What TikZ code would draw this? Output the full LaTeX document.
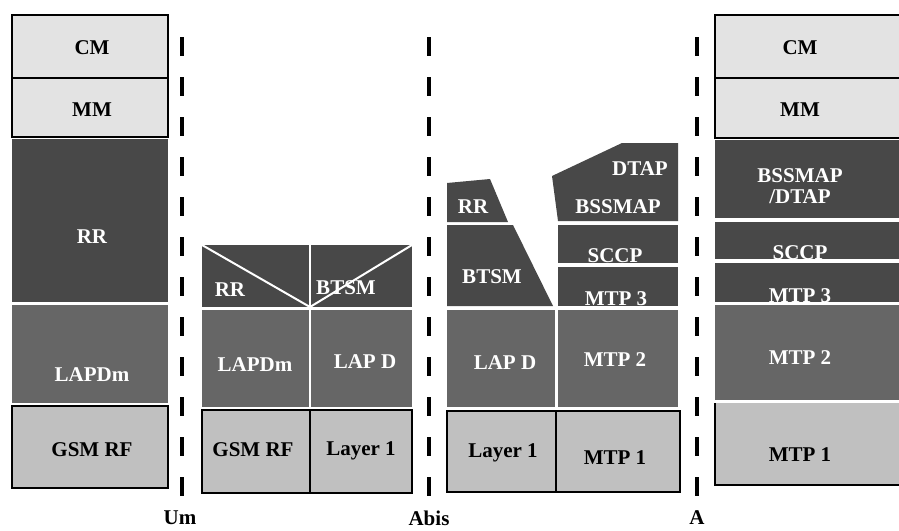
\documentclass[tikz,border=0pt]{standalone}
\usepackage{fontspec}
\setmainfont{Liberation Serif}
\usetikzlibrary{positioning}
\definecolor{layerpale}{HTML}{E3E3E3}
\definecolor{layerlight}{HTML}{C0C0C0}
\definecolor{layermid}{HTML}{666666}
\definecolor{layerdark}{HTML}{484848}

\begin{document}
\begin{tikzpicture}[x=1pt, y=-1pt,
    lbl/.style={font=\bfseries\fontsize{21}{21}\selectfont, inner sep=0pt},
    onlight/.style={lbl, black},
    ondark/.style={lbl, white},
    rim/.style={line width=1.6pt, black},
    cut/.style={line width=2pt, white},
    iface/.style={line width=4.5pt, black, dash pattern=on 19pt off 21pt}]
    \useasboundingbox (0,0) rectangle (899,530);

    % interfaces
    \draw[iface] (182,37) -- (182,497);
    \draw[iface] (429,37) -- (429,497);
    \draw[iface] (697,37) -- (697,497);
    \node[onlight] (um) at (180,518) {Um};
    \node[onlight] (abis) at (429,518) {Abis};
    \node[onlight] (aif) at (697,518) {A};

    % mobile station
    \fill[layerpale] (12,15) rectangle (168,137);
    \draw[rim] (12,15) rectangle (168,78);
    \draw[rim] (12,78) rectangle (168,137);
    \fill[layerdark] (12,139) rectangle (168,302);
    \fill[layermid] (12,305) rectangle (168,403);
    \fill[layerlight] (12,406) rectangle (168,488);
    \draw[rim] (12,406) rectangle (168,488);
    \node[onlight] (mscm) at (92,48) {CM};
    \node[onlight] (msmm) at (92,110) {MM};
    \node[ondark] (msrr) at (92,237) {RR};
    \node[ondark] (mslapdm) at (92,375) {LAPDm};
    \node[onlight] (msrf) at (92,450) {GSM RF};

    % base transceiver station
    \fill[layerdark] (202,245) rectangle (412,307);
    \draw[cut] (202,245) -- (310,307) -- (412,245);
    \draw[cut] (310,245) -- (310,307);
    \fill[layermid] (202,310) rectangle (309,407);
    \fill[layermid] (311,310) rectangle (412,407);
    \fill[layerlight] (202,410) rectangle (412,493);
    \draw[rim] (202,410) rectangle (412,493);
    \draw[rim] (310,410) -- (310,493);
    \node[ondark] (btsrr) at (230,290) {RR};
    \node[ondark] (btsbtsm) at (346,288) {BTSM};
    \node[ondark] (btslapdm) at (255,365) {LAPDm};
    \node[ondark] (btslapd) at (365,362) {LAP D};
    \node[onlight] (btsrf) at (253,450) {GSM RF};
    \node[onlight] (btsl1) at (361,451) {Layer 1};

    % base station controller
    \fill[layerdark] (447,183) -- (490,179) -- (508,222) -- (447,222) -- cycle;
    \fill[layerdark] (447,225) -- (513,225) -- (553,306) -- (447,306) -- cycle;
    \fill[layermid] (447,310) rectangle (555,407);
    \fill[layerdark] (552,176) -- (622,143) -- (678,143) -- (678,221) -- (558,221) -- cycle;
    \fill[layerdark] (558,225) rectangle (678,263);
    \fill[layerdark] (558,267) rectangle (678,306);
    \fill[layermid] (558,310) rectangle (678,407);
    \fill[layerlight] (447,411) rectangle (680,492);
    \draw[rim] (447,411) rectangle (680,492);
    \draw[rim] (556,411) -- (556,492);
    \node[ondark] (bscrr) at (473,207) {RR};
    \node[ondark] (bscbtsm) at (492,277) {BTSM};
    \node[ondark] (bsclapd) at (505,363) {LAP D};
    \node[onlight] (bscl1) at (503,453) {Layer 1};
    \node[ondark] (bscdtap) at (640,169) {DTAP};
    \node[ondark] (bscbssmap) at (618,207) {BSSMAP};
    \node[ondark] (bscsccp) at (615,256) {SCCP};
    \node[ondark] (bscmtp3) at (616,299) {MTP 3};
    \node[ondark] (bscmtp2) at (615,360) {MTP 2};
    \node[onlight] (bscmtp1) at (615,458) {MTP 1};

    % mobile switching centre
    \fill[layerpale] (715,15) rectangle (899,138);
    \draw[rim] (899,15) -- (715,15) -- (715,138) -- (899,138);
    \draw[rim] (715,78) -- (899,78);
    \fill[layerdark] (715,140) rectangle (899,218);
    \fill[layerdark] (715,222) rectangle (899,259);
    \fill[layerdark] (715,263) rectangle (899,302);
    \fill[layermid] (715,305) rectangle (899,400);
    \fill[layerlight] (715,403) rectangle (899,485);
    \draw[rim] (899,485) -- (715,485) -- (715,403);
    \node[onlight] (msccm) at (800,48) {CM};
    \node[onlight] (mscmm) at (800,110) {MM};
    \node[ondark, align=center] (mscbssmap) at (800,186) {BSSMAP\\/DTAP};
    \node[ondark] (mscsccp) at (800,253) {SCCP};
    \node[ondark] (mscmtp3) at (800,296) {MTP 3};
    \node[ondark] (mscmtp2) at (800,358) {MTP 2};
    \node[onlight] (mscmtp1) at (800,455) {MTP 1};
\end{tikzpicture}
\end{document}
